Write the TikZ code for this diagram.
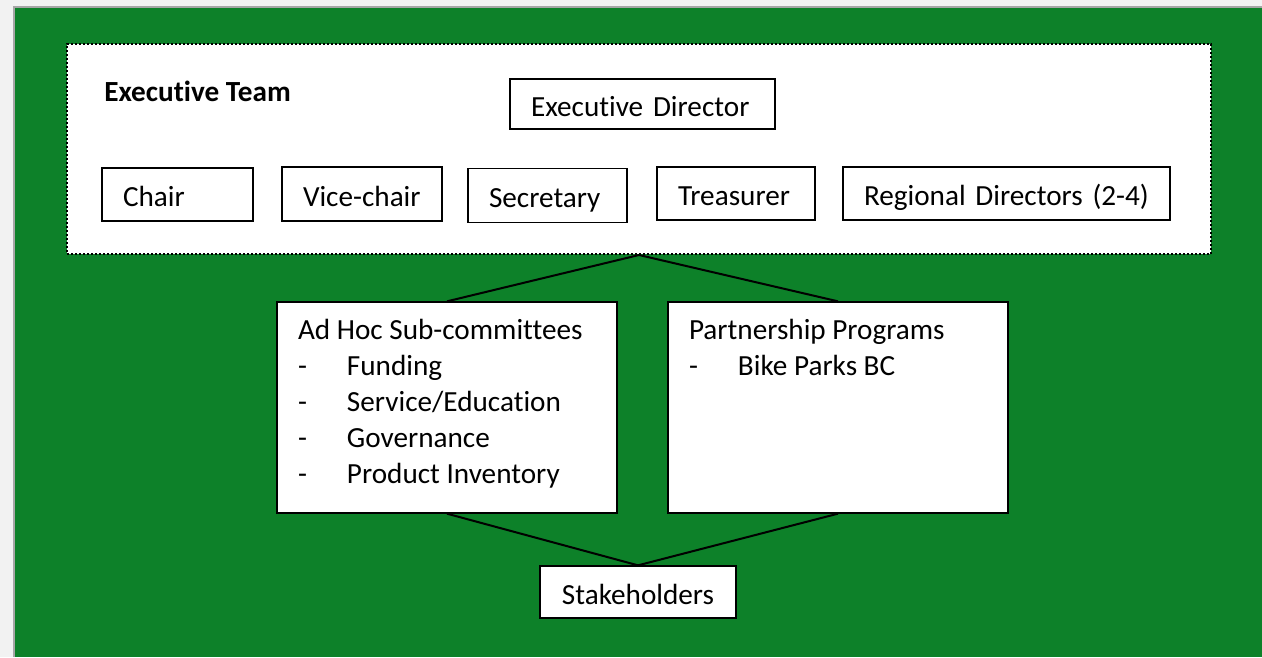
\documentclass[tikz,border=0pt]{standalone}
\usepackage{fontspec}
\setmainfont{Carlito}[Ligatures={NoCommon,NoContextual}]
\usetikzlibrary{positioning}
\definecolor{boardgreen}{RGB}{13,129,41}
\definecolor{pagegray}{RGB}{242,242,242}

\begin{document}
\begin{tikzpicture}[x=0.75pt,y=-0.75pt,
    font=\fontsize{21.9}{27}\selectfont,
    rolebox/.style={draw=black,fill=white,line width=1pt,inner xsep=15.75pt,inner ysep=0pt,
                    align=left,text height=22.4pt,text depth=4pt},
    panel/.style={draw=black,fill=white,line width=1pt,inner xsep=15.75pt,inner ysep=0pt},
    link/.style={line width=1.5pt}]
  \fill[pagegray] (0,0) rectangle (1262,657);
  \useasboundingbox (0,0) rectangle (1262,657);
  \fill[boardgreen] (14,7) rectangle (1262,657);
  \draw[gray!70,line width=0.8pt] (14,657) -- (14,7) -- (1262,7);

  % executive team frame
  \node[draw=black,fill=white,line width=1.5pt,dash pattern=on 1.5pt off 1.5pt,
        minimum width=858pt,minimum height=157.5pt,inner sep=0pt] (team) at (639,149) {};
  \node[anchor=west,inner sep=0pt,font=\fontsize{21.9}{27}\selectfont\bfseries] (teamlabel) at (104,91) {Executive Team};

  \node[rolebox,text width=167.25pt,minimum height=37.5pt] (director) at (642.5,104) {Executive Director};
  \node[rolebox,text width=81.75pt,minimum height=39.75pt] (chair) at (177.5,194.5) {Chair};
  \node[rolebox,text width=88.5pt,minimum height=40.5pt] (vicechair) at (362,194) {Vice-chair};
  \node[rolebox,text width=87.75pt,minimum height=40.5pt] (secretary) at (547.5,195.5) {Secretary};
  \node[rolebox,text width=87pt,minimum height=39.75pt] (treasurer) at (736,193.5) {Treasurer};
  \node[rolebox,text width=213.75pt,minimum height=39.75pt] (regional) at (1006.5,193.5) {Regional Directors (2-4)};

  % committees and programs
  \node[panel] (adhoc) at (447,407.5) {\parbox[c][158.25pt][t]{223.5pt}{\raggedright
      \rule{0pt}{27.75pt}Ad Hoc Sub-committees\\
      \makebox[36.75pt][l]{-}Funding\\
      \makebox[36.75pt][l]{-}Service/Education\\
      \makebox[36.75pt][l]{-}Governance\\
      \makebox[36.75pt][l]{-}Product Inventory}};
  \node[panel] (partner) at (838,407.5) {\parbox[c][158.25pt][t]{223.5pt}{\raggedright
      \rule{0pt}{27.75pt}Partnership Programs\\
      \makebox[36.75pt][l]{-}Bike Parks BC}};

  \node[rolebox,align=center,text width=115.5pt,minimum height=39pt] (stake) at (638,592) {Stakeholders};

  \draw[link] (team.south) -- (adhoc.north);
  \draw[link] (team.south) -- (partner.north);
  \draw[link] (adhoc.south) -- (stake.north);
  \draw[link] (partner.south) -- (stake.north);
\end{tikzpicture}
\end{document}
